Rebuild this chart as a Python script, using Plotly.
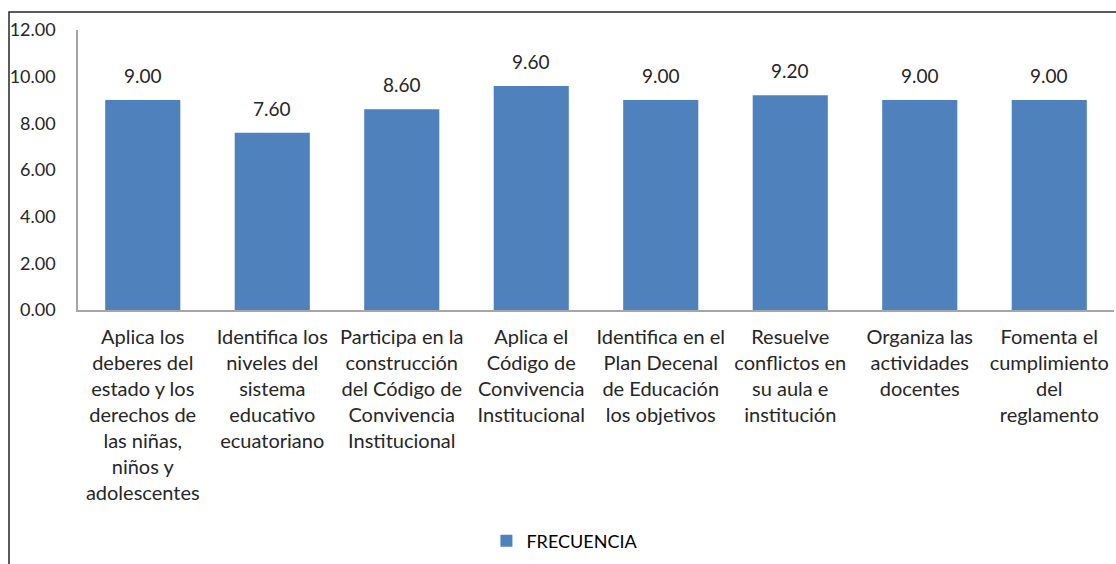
import plotly.graph_objects as go

# Data
categories = [
    "Aplica los<br>deberes del<br>estado y los<br>derechos de<br>las niñas,<br>niños y<br>adolescentes",
    "Identifica los<br>niveles del<br>sistema<br>educativo<br>ecuatoriano",
    "Participa en la<br>construcción<br>del Código de<br>Convivencia<br>Institucional",
    "Aplica el<br>Código de<br>Convivencia<br>Institucional",
    "Identifica en el<br>Plan Decenal<br>de Educación<br>los objetivos",
    "Resuelve<br>conflictos en<br>su aula e<br>institución",
    "Organiza las<br>actividades<br>docentes",
    "Fomenta el<br>cumplimiento<br>del<br>reglamento",
]
frecuencia = [9.00, 7.60, 8.60, 9.60, 9.00, 9.20, 9.00, 9.00]
y_ticks = [0, 2, 4, 6, 8, 10, 12]

FONT = "Lato"
TXT = "#262626"
BAR = "#4F81BD"

xs = list(range(len(categories)))

fig = go.Figure()
fig.add_trace(go.Bar(
    x=xs, y=frecuencia, name="FRECUENCIA",
    marker=dict(color=BAR, line=dict(width=0)),
    width=0.58,
))

# Value labels above each bar
for xi, v in zip(xs, frecuencia):
    fig.add_annotation(
        x=xi, y=v, text=f"{v:.2f}", showarrow=False,
        yanchor="bottom", yshift=11,
        font=dict(family=FONT, size=19, color=TXT),
    )

# Outer chart border
fig.add_shape(
    type="rect", xref="paper", yref="paper",
    x0=-0.0666, x1=1.2, y0=-1.2, y1=1.064,
    line=dict(color="#262626", width=1.5), fillcolor="rgba(0,0,0,0)",
    layer="below",
)

fig.update_layout(
    width=1116, height=564,
    margin=dict(l=78, r=2, t=30, b=254),
    paper_bgcolor="white", plot_bgcolor="white",
    bargap=0.42,
    showlegend=True,
    legend=dict(
        orientation="h", x=0.47, xanchor="center", y=-0.825, yanchor="middle",
        font=dict(family=FONT, size=18, color="#000000"),
    ),
    font=dict(family=FONT, size=18, color=TXT),
)
fig.update_xaxes(
    tickmode="array", tickvals=xs, ticktext=categories,
    range=[-0.5, len(categories) - 0.5],
    showline=True, linecolor="#A6A6A6", linewidth=1.5,
    showgrid=False, ticks="", ticklabelstandoff=8,
    tickfont=dict(family=FONT, size=20, color=TXT),
    tickangle=0,
)
fig.update_yaxes(
    range=[0, 12], tickmode="array", tickvals=y_ticks,
    tickformat=".2f",
    showline=True, linecolor="#A6A6A6", linewidth=1.5,
    showgrid=False, zeroline=False, ticks="",
    ticklabelstandoff=17,
    tickfont=dict(family=FONT, size=18, color=TXT),
)

fig.write_html("out.html")
